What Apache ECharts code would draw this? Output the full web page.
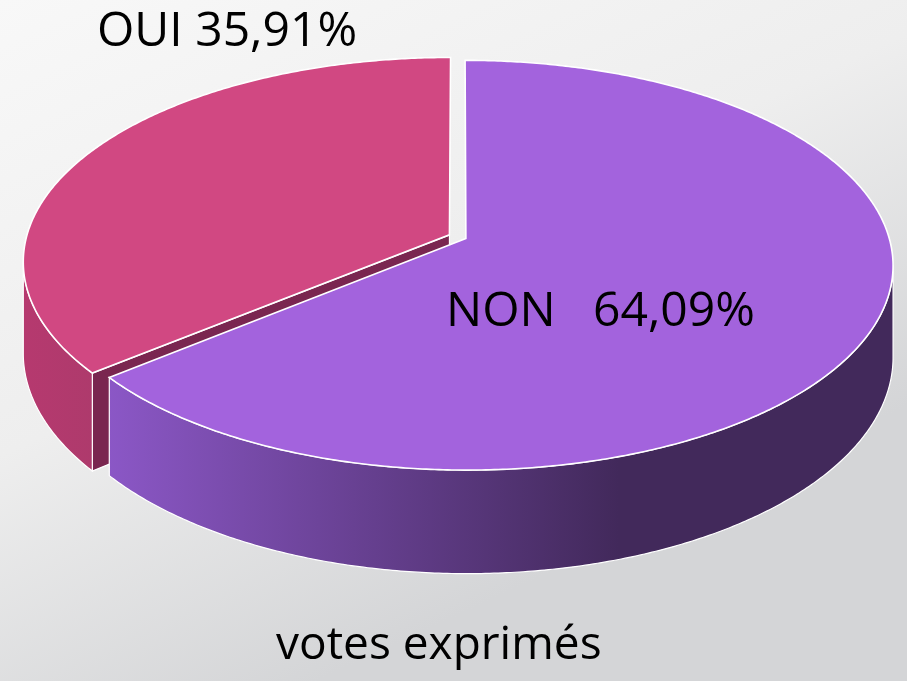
<!DOCTYPE html>
<html><head><meta charset="utf-8">
<script src="https://cdn.jsdelivr.net/npm/echarts@6/dist/echarts.min.js"></script>
<style>html,body{margin:0;padding:0;background:#fff;} #c{width:907px;height:681px;}</style>
</head><body><div id="c"></div>
<script>
// ---- data ----
const categories = ['OUI', 'NON'];
const shares = [35.91, 64.09];
const labelTexts = ['OUI 35,91%', 'NON   64,09%'];
const chartTitle = 'votes exprimés';

// ---- style / geometry (not data) ----
const topColors = ['#d14882', '#a363dd'];
const cutColors = ['#7a2650', '#5a3580'];
const wallStops = [
  [[0, '#b6396f'], [1, '#ae3a6c']],
  [[0, '#8b57c6'], [0.65, '#42295b'], [1, '#42295b']]
];
const explode = [0.025, 0.018];
const CX = 459, CY = 237, A = 423, AY = 201, B = -0.13, H = 90;
const FONT = '"Open Sans", "Noto Sans", sans-serif';

function proj(u, v, depth) {
  const w = 1 + B * v;
  return [CX + A * u / w, CY + (AY * v + depth) / w];
}
function disk(phi) { return [-Math.sin(phi), -Math.cos(phi)]; }

const total = shares.reduce((a, b) => a + b, 0);
const visLo = Math.acos(B);            // silhouette where v = -B
const visHi = 2 * Math.PI - visLo;

function arcPts(p0, p1, du, dv, depth) {
  const pts = [];
  const n = Math.max(2, Math.ceil((p1 - p0) / (Math.PI / 360)));
  for (let k = 0; k <= n; k++) {
    const p = p0 + (p1 - p0) * k / n;
    const d = disk(p);
    pts.push(proj(d[0] + du, d[1] + dv, depth));
  }
  return pts;
}

function renderItem(params, api) {
  const i = params.dataIndex;
  const val = api.value(1);
  let start = 0;
  for (let k = 0; k < i; k++) start += shares[k];
  const p0 = start / total * 2 * Math.PI;
  const p1 = (start + val) / total * 2 * Math.PI;
  const pm = (p0 + p1) / 2;
  const dm = disk(pm);
  const du = dm[0] * explode[i], dv = dm[1] * explode[i];
  const children = [];

  // outer wall (front-facing part)
  const a0 = Math.max(p0, visLo), a1 = Math.min(p1, visHi);
  if (a1 > a0) {
    const topArc = arcPts(a0, a1, du, dv, 0);
    const botArc = arcPts(a0, a1, du, dv, H).reverse();
    children.push({
      type: 'polygon', z2: 2,
      shape: { points: topArc.concat(botArc) },
      style: {
        fill: new echarts.graphic.LinearGradient(0, 0, 1, 0,
          wallStops[i].map(s => ({ offset: s[0], color: s[1] }))),
        stroke: '#ffffff', lineWidth: 1.2
      }
    });
  }
  // cut faces
  const apexT = proj(du, dv, 0), apexB = proj(du, dv, H);
  const faces = [];
  if (Math.sin(p1) > 0.05) faces.push(p1);
  if (-Math.sin(p0) > 0.05) faces.push(p0);
  faces.forEach(p => {
    const d = disk(p);
    const rT = proj(d[0] + du, d[1] + dv, 0), rB = proj(d[0] + du, d[1] + dv, H);
    children.push({
      type: 'polygon', z2: 1,
      shape: { points: [apexT, rT, rB, apexB] },
      style: { fill: cutColors[i], stroke: '#ffffff', lineWidth: 1.2 }
    });
  });
  // top face
  children.push({
    type: 'polygon', z2: 3,
    shape: { points: [apexT].concat(arcPts(p0, p1, du, dv, 0)) },
    style: { fill: topColors[i], stroke: '#ffffff', lineWidth: 1.6 }
  });
  return { type: 'group', children: children };
}

const chart = echarts.init(document.getElementById('c'), null, { renderer: 'canvas' });
chart.setOption({
  animation: false,
  backgroundColor: new echarts.graphic.LinearGradient(0, 0, 0.35, 1, [
    { offset: 0, color: '#f8f8f8' },
    { offset: 0.55, color: '#eeeeee' },
    { offset: 1, color: '#d4d5d7' }
  ]),
  series: [{
    type: 'custom',
    coordinateSystem: 'none',
    name: 'votes',
    data: categories.map((c, i) => ({ name: c, value: [i, shares[i]] })),
    renderItem: renderItem
  }],
  graphic: [
    { type: 'text', left: 97, top: 8, z: 10,
      style: { text: labelTexts[0], font: '48px ' + FONT, fill: '#000' } },
    { type: 'text', left: 446, top: 288, z: 10,
      style: { text: labelTexts[1], font: '48px ' + FONT, fill: '#000' } },
    { type: 'text', left: 276, top: 623, z: 10,
      style: { text: chartTitle, font: '46px ' + FONT, fill: '#000' } }
  ]
});
</script>
</body></html>
